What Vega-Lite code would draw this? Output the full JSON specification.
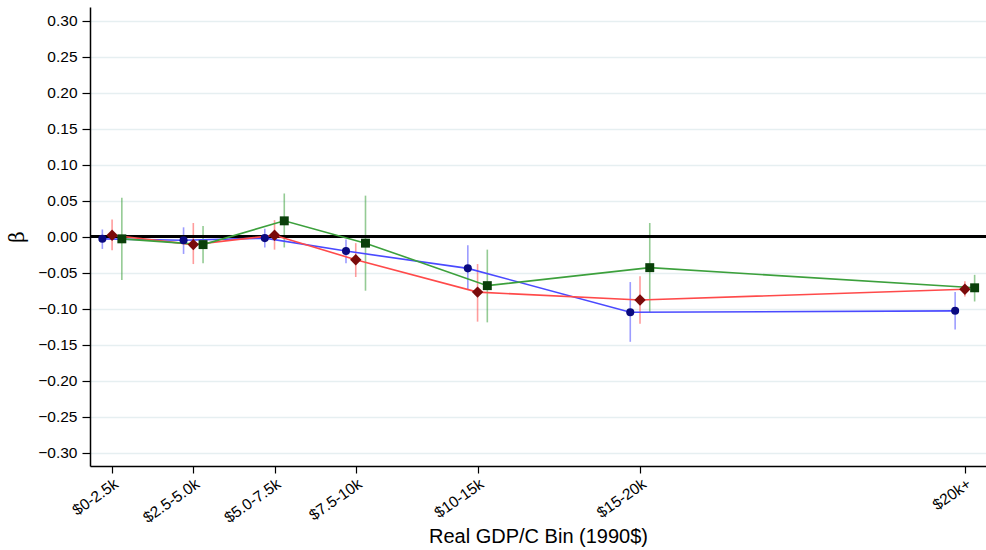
{
  "$schema": "https://vega.github.io/schema/vega-lite/v6.json",
  "autosize": {"type": "none"},
  "padding": {"left": 90, "top": 7, "right": 0, "bottom": 84},
  "width": 896,
  "height": 459,
  "background": "white",
  "config": {
    "view": {"stroke": null},
    "font": "Liberation Sans",
    "axisX": {
      "labelAngle": -35,
      "labelAlign": "right",
      "labelBaseline": "top",
      "labelFontSize": 15.5,
      "labelColor": "black",
      "labelPadding": 3,
      "labelOverlap": false,
      "labelFlush": false,
      "tickSize": 7,
      "tickColor": "black",
      "tickWidth": 1.2,
      "domainColor": "black",
      "domainWidth": 1.5,
      "grid": false,
      "titleFontSize": 20,
      "titleFontWeight": "normal",
      "titleColor": "black",
      "titlePadding": 1
    },
    "axisY": {
      "labelFontSize": 15.5,
      "labelColor": "black",
      "labelPadding": 5,
      "labelOverlap": false,
      "labelFlush": false,
      "tickSize": 8,
      "tickColor": "black",
      "tickWidth": 1.2,
      "domainColor": "black",
      "domainWidth": 1.5,
      "grid": true,
      "gridColor": "#e6eff1",
      "gridWidth": 1.5,
      "titleFont": "DejaVu Serif",
      "titleFontSize": 20,
      "titleFontWeight": "normal",
      "titleColor": "black",
      "titlePadding": 10
    }
  },
  "data": {
    "values": [
      {"series": "Model 1", "bin": "$0-2.5k", "x": 0.95, "beta": -0.003, "hi": 0.010, "lo": -0.017},
      {"series": "Model 1", "bin": "$2.5-5.0k", "x": 3.45, "beta": -0.005, "hi": 0.013, "lo": -0.024},
      {"series": "Model 1", "bin": "$5.0-7.5k", "x": 5.95, "beta": -0.002, "hi": 0.011, "lo": -0.015},
      {"series": "Model 1", "bin": "$7.5-10k", "x": 8.45, "beta": -0.020, "hi": -0.004, "lo": -0.037},
      {"series": "Model 1", "bin": "$10-15k", "x": 12.2, "beta": -0.044, "hi": -0.012, "lo": -0.074},
      {"series": "Model 1", "bin": "$15-20k", "x": 17.2, "beta": -0.105, "hi": -0.063, "lo": -0.146},
      {"series": "Model 1", "bin": "$20k+", "x": 27.2, "beta": -0.103, "hi": -0.077, "lo": -0.129},
      {"series": "Model 2", "bin": "$0-2.5k", "x": 1.25, "beta": 0.002, "hi": 0.024, "lo": -0.019},
      {"series": "Model 2", "bin": "$2.5-5.0k", "x": 3.75, "beta": -0.011, "hi": 0.019, "lo": -0.038},
      {"series": "Model 2", "bin": "$5.0-7.5k", "x": 6.25, "beta": 0.002, "hi": 0.023, "lo": -0.018},
      {"series": "Model 2", "bin": "$7.5-10k", "x": 8.75, "beta": -0.032, "hi": -0.009, "lo": -0.056},
      {"series": "Model 2", "bin": "$10-15k", "x": 12.5, "beta": -0.077, "hi": -0.038, "lo": -0.118},
      {"series": "Model 2", "bin": "$15-20k", "x": 17.5, "beta": -0.088, "hi": -0.055, "lo": -0.121},
      {"series": "Model 2", "bin": "$20k+", "x": 27.5, "beta": -0.073, "hi": -0.062, "lo": -0.083},
      {"series": "Model 3", "bin": "$0-2.5k", "x": 1.55, "beta": -0.003, "hi": 0.054, "lo": -0.060},
      {"series": "Model 3", "bin": "$2.5-5.0k", "x": 4.05, "beta": -0.011, "hi": 0.015, "lo": -0.037},
      {"series": "Model 3", "bin": "$5.0-7.5k", "x": 6.55, "beta": 0.022, "hi": 0.060, "lo": -0.015},
      {"series": "Model 3", "bin": "$7.5-10k", "x": 9.05, "beta": -0.009, "hi": 0.057, "lo": -0.075},
      {"series": "Model 3", "bin": "$10-15k", "x": 12.8, "beta": -0.068, "hi": -0.018, "lo": -0.119},
      {"series": "Model 3", "bin": "$15-20k", "x": 17.8, "beta": -0.043, "hi": 0.019, "lo": -0.105},
      {"series": "Model 3", "bin": "$20k+", "x": 27.8, "beta": -0.071, "hi": -0.053, "lo": -0.090}
    ]
  },
  "layer": [
    {
      "mark": {"type": "rule", "strokeWidth": 1.6, "opacity": 0.55},
      "encoding": {
        "x": {
          "field": "x", "type": "quantitative", "title": "Real GDP/C Bin (1990$)",
          "scale": {"domain": [0.57, 28.15], "nice": false, "zero": false},
          "axis": {
            "values": [1.25, 3.75, 6.25, 8.75, 12.5, 17.5, 27.5],
            "labelExpr": "datum.value == 1.25 ? '$0-2.5k' : datum.value == 3.75 ? '$2.5-5.0k' : datum.value == 6.25 ? '$5.0-7.5k' : datum.value == 8.75 ? '$7.5-10k' : datum.value == 12.5 ? '$10-15k' : datum.value == 17.5 ? '$15-20k' : '$20k+'"
          }
        },
        "y": {
          "field": "lo", "type": "quantitative", "title": "β",
          "scale": {"domain": [-0.3185, 0.319], "nice": false, "zero": false},
          "axis": {
            "values": [-0.3, -0.25, -0.2, -0.15, -0.1, -0.05, 0, 0.05, 0.1, 0.15, 0.2, 0.25, 0.3],
            "format": ".2f"
          }
        },
        "y2": {"field": "hi"},
        "color": {"field": "series", "type": "nominal", "legend": null, "scale": {"domain": ["Model 1", "Model 2", "Model 3"], "range": ["#4a4aff", "#ff4a4a", "#3ca03c"]}}
      }
    },
    {
      "mark": {"type": "rule", "color": "black", "strokeWidth": 1.8},
      "encoding": {
        "y": {"datum": 0, "type": "quantitative", "title": "β",
          "axis": {
            "values": [-0.3, -0.25, -0.2, -0.15, -0.1, -0.05, 0, 0.05, 0.1, 0.15, 0.2, 0.25, 0.3],
            "format": ".2f"
          }}
      }
    },
    {
      "mark": {"type": "line", "strokeWidth": 1.6},
      "encoding": {
        "x": {"field": "x", "type": "quantitative", "title": "Real GDP/C Bin (1990$)",
          "axis": {
            "values": [1.25, 3.75, 6.25, 8.75, 12.5, 17.5, 27.5],
            "labelExpr": "datum.value == 1.25 ? '$0-2.5k' : datum.value == 3.75 ? '$2.5-5.0k' : datum.value == 6.25 ? '$5.0-7.5k' : datum.value == 8.75 ? '$7.5-10k' : datum.value == 12.5 ? '$10-15k' : datum.value == 17.5 ? '$15-20k' : '$20k+'"
          }},
        "y": {"field": "beta", "type": "quantitative", "title": "β",
          "axis": {
            "values": [-0.3, -0.25, -0.2, -0.15, -0.1, -0.05, 0, 0.05, 0.1, 0.15, 0.2, 0.25, 0.3],
            "format": ".2f"
          }},
        "color": {"field": "series", "type": "nominal", "legend": null}
      }
    },
    {
      "transform": [{"filter": "datum.series == 'Model 1'"}],
      "mark": {"type": "point", "filled": true, "opacity": 1, "shape": "circle", "size": 65, "color": "#0a0a80"},
      "encoding": {
        "x": {"field": "x", "type": "quantitative", "title": "Real GDP/C Bin (1990$)",
          "axis": {
            "values": [1.25, 3.75, 6.25, 8.75, 12.5, 17.5, 27.5],
            "labelExpr": "datum.value == 1.25 ? '$0-2.5k' : datum.value == 3.75 ? '$2.5-5.0k' : datum.value == 6.25 ? '$5.0-7.5k' : datum.value == 8.75 ? '$7.5-10k' : datum.value == 12.5 ? '$10-15k' : datum.value == 17.5 ? '$15-20k' : '$20k+'"
          }},
        "y": {"field": "beta", "type": "quantitative", "title": "β",
          "axis": {
            "values": [-0.3, -0.25, -0.2, -0.15, -0.1, -0.05, 0, 0.05, 0.1, 0.15, 0.2, 0.25, 0.3],
            "format": ".2f"
          }}
      }
    },
    {
      "transform": [{"filter": "datum.series == 'Model 2'"}],
      "mark": {"type": "point", "filled": true, "opacity": 1, "shape": "diamond", "size": 130, "color": "#7a0a0a"},
      "encoding": {
        "x": {"field": "x", "type": "quantitative", "title": "Real GDP/C Bin (1990$)",
          "axis": {
            "values": [1.25, 3.75, 6.25, 8.75, 12.5, 17.5, 27.5],
            "labelExpr": "datum.value == 1.25 ? '$0-2.5k' : datum.value == 3.75 ? '$2.5-5.0k' : datum.value == 6.25 ? '$5.0-7.5k' : datum.value == 8.75 ? '$7.5-10k' : datum.value == 12.5 ? '$10-15k' : datum.value == 17.5 ? '$15-20k' : '$20k+'"
          }},
        "y": {"field": "beta", "type": "quantitative", "title": "β",
          "axis": {
            "values": [-0.3, -0.25, -0.2, -0.15, -0.1, -0.05, 0, 0.05, 0.1, 0.15, 0.2, 0.25, 0.3],
            "format": ".2f"
          }}
      }
    },
    {
      "transform": [{"filter": "datum.series == 'Model 3'"}],
      "mark": {"type": "point", "filled": true, "opacity": 1, "shape": "square", "size": 80, "color": "#0a400a"},
      "encoding": {
        "x": {"field": "x", "type": "quantitative", "title": "Real GDP/C Bin (1990$)",
          "axis": {
            "values": [1.25, 3.75, 6.25, 8.75, 12.5, 17.5, 27.5],
            "labelExpr": "datum.value == 1.25 ? '$0-2.5k' : datum.value == 3.75 ? '$2.5-5.0k' : datum.value == 6.25 ? '$5.0-7.5k' : datum.value == 8.75 ? '$7.5-10k' : datum.value == 12.5 ? '$10-15k' : datum.value == 17.5 ? '$15-20k' : '$20k+'"
          }},
        "y": {"field": "beta", "type": "quantitative", "title": "β",
          "axis": {
            "values": [-0.3, -0.25, -0.2, -0.15, -0.1, -0.05, 0, 0.05, 0.1, 0.15, 0.2, 0.25, 0.3],
            "format": ".2f"
          }}
      }
    }
  ]
}
